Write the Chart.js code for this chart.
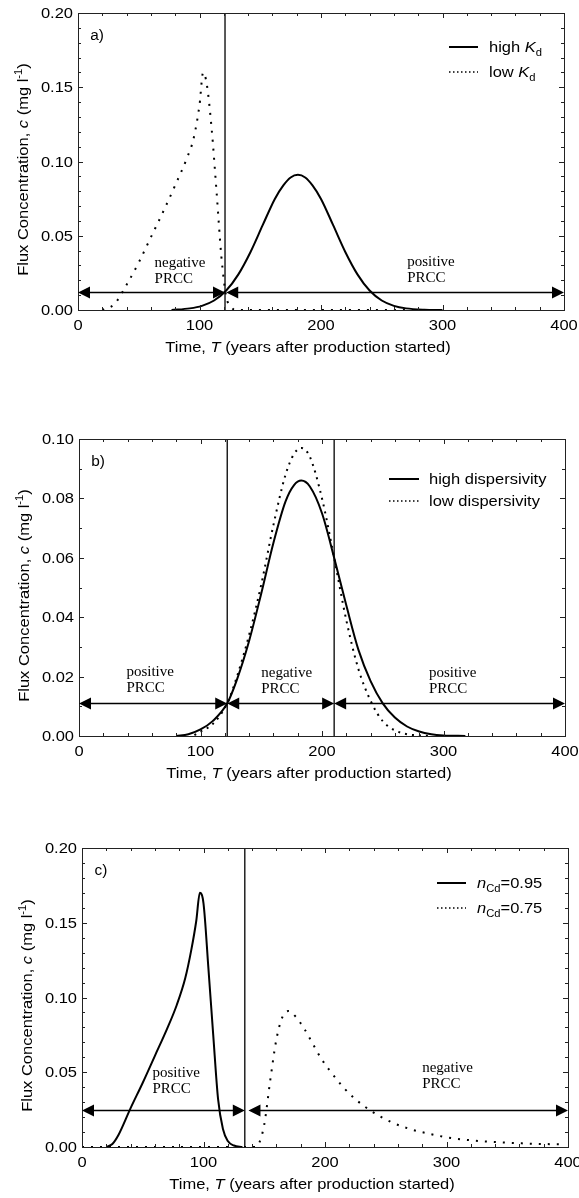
<!DOCTYPE html>
<html>
<head>
<meta charset="utf-8">
<script src="https://cdn.jsdelivr.net/npm/chart.js@4.4.1/dist/chart.umd.min.js"></script>
<style>
  html, body { margin: 0; padding: 0; background: #fff; }
  body { width: 579px; height: 1198px; position: relative; overflow: hidden; }
  canvas { position: absolute; left: 0; }
</style>
</head>
<body>
<canvas id="chartA" width="579" height="370" style="top:0px"></canvas>
<canvas id="chartB" width="579" height="400" style="top:400px"></canvas>
<canvas id="chartC" width="579" height="378" style="top:820px"></canvas>
<script>
// =================== DATA ===================
const xTickLabels = ["0", "100", "200", "300", "400"];
const yTickLabelsA = ["0.00", "0.05", "0.10", "0.15", "0.20"];
const yTickLabelsB = ["0.00", "0.02", "0.04", "0.06", "0.08", "0.10"];
const yTickLabelsC = ["0.00", "0.05", "0.10", "0.15", "0.20"];

// panel a) high / low Kd
const timeHighKd = [77, 92, 102, 112, 122, 132, 142, 152, 162, 169, 175, 181, 187, 193, 200, 210, 220, 230, 240, 250, 260, 270, 285, 300];
const concHighKd = [0, 0.0011, 0.0028, 0.0064, 0.0131, 0.024, 0.0391, 0.0571, 0.0748, 0.0839, 0.0892, 0.091, 0.0892, 0.0839, 0.0748, 0.0571, 0.0391, 0.024, 0.0131, 0.0064, 0.0028, 0.0011, 0.0002, 0];
const timeLowKd = [20, 30, 40, 50, 60, 70, 80, 90, 95, 100, 103, 106, 110, 114, 118, 122, 126, 130, 300];
const concLowKd = [0, 0.004, 0.017, 0.032, 0.049, 0.066, 0.084, 0.103, 0.115, 0.138, 0.160, 0.152, 0.122, 0.080, 0.036, 0.009, 0.002, 0, 0];
const dividersA = [121];
const arrowLevelA = 0.012;
const arrowSpansA = [[0, 121], [122, 400]];

// panel b) high / low dispersivity
const timeHighDisp = [80, 90, 100, 110, 122, 130, 140, 150, 160, 170, 177, 183, 190, 200, 210, 220, 230, 240, 250, 260, 270, 280, 290, 300, 318];
const concHighDisp = [0, 0.0006, 0.0022, 0.005, 0.011, 0.019, 0.032, 0.048, 0.065, 0.079, 0.0845, 0.086, 0.084, 0.075, 0.060, 0.044, 0.029, 0.0185, 0.011, 0.0062, 0.0032, 0.0015, 0.0006, 0.0002, 0];
const timeLowDisp = [95, 100, 110, 122, 130, 140, 150, 160, 170, 177, 183, 190, 200, 210, 220, 230, 241, 250, 260, 270, 280, 290];
const concLowDisp = [0.0003, 0.0015, 0.004, 0.011, 0.020, 0.034, 0.051, 0.071, 0.088, 0.095, 0.097, 0.094, 0.080, 0.060, 0.039, 0.0225, 0.011, 0.005, 0.0019, 0.0006, 0.0002, 0];
const dividersB = [122, 210];
const arrowLevelB = 0.011;
const arrowSpansB = [[0, 122], [122, 210], [210, 400]];

// panel c) nCd = 0.95 / 0.75
const timeN95 = [20, 25, 30, 40, 50, 60, 70, 78, 85, 90, 94, 97, 100, 104, 108, 112, 116, 120, 125, 132];
const concN95 = [0, 0.002, 0.008, 0.026, 0.043, 0.061, 0.079, 0.095, 0.113, 0.132, 0.151, 0.170, 0.163, 0.120, 0.075, 0.032, 0.012, 0.004, 0.001, 0];
const timeN75 = [0, 143, 146, 150, 155, 160, 165, 170, 176, 183, 190, 197, 205, 215, 225, 240, 255, 270, 285, 300, 320, 340, 360, 380, 395];
const concN75 = [0, 0, 0.003, 0.015, 0.045, 0.072, 0.087, 0.091, 0.087, 0.079, 0.069, 0.059, 0.050, 0.040, 0.032, 0.023, 0.0165, 0.012, 0.009, 0.0065, 0.0045, 0.0033, 0.0025, 0.002, 0.0018];
const dividersC = [134];
const arrowLevelC = 0.025;
const arrowSpansC = [[0, 134], [137, 400]];

// =================== TEXT HELPERS ===================
const SANS = '"Liberation Sans", Arial, sans-serif';
const SERIF = '"Liberation Serif", "Times New Roman", serif';
const SX = 1.1; // the sans text in the figure is a bit wide

function partFont(p, size) {
	const s = p.s === "sub" || p.s === "sup" ? size * 0.68 : size;
	return `${p.i ? "italic " : ""}${s}px ${SANS}`;
}

function drawRich(ctx, parts, x, y, size, align, rotate) {
	ctx.save();
	ctx.translate(x, y);
	if (rotate) ctx.rotate(-Math.PI / 2);
	ctx.scale(SX, 1);
	let w = 0;
	parts.forEach((p) => {
		ctx.font = partFont(p, size);
		w += ctx.measureText(p.t).width;
	});
	let cx = align === "center" ? -w / 2 : align === "right" ? -w : 0;
	ctx.textAlign = "left";
	ctx.textBaseline = "alphabetic";
	ctx.fillStyle = "#000";
	parts.forEach((p) => {
		ctx.font = partFont(p, size);
		const dy = p.s === "sub" ? size * 0.28 : p.s === "sup" ? -size * 0.42 : 0;
		ctx.fillText(p.t, cx, dy);
		cx += ctx.measureText(p.t).width;
	});
	ctx.restore();
}

const yTitle = [{ t: "Flux Concentration, " }, { t: "c", i: 1 }, { t: " (mg l" }, { t: "-1", s: "sup" }, { t: ")" }];
const xTitle = [{ t: "Time, " }, { t: "T", i: 1 }, { t: " (years after production started)" }];

// =================== DECOR PLUGIN ===================
const decor = {
	id: "decor",
	afterDraw(chart, args, o) {
		const { ctx, chartArea: a } = chart;
		const x = chart.scales.x;
		const y = chart.scales.y;
		const L = Math.round(a.left), R = Math.round(a.right), T = Math.round(a.top), B = Math.round(a.bottom);
		ctx.save();

		// frame
		ctx.strokeStyle = "#222";
		ctx.lineWidth = 1;
		ctx.strokeRect(L + 0.5, T + 0.5, R - L, B - T);

		// inward ticks, all four sides
		const xMaj = o.xLabels.map(Number);
		const yMaj = o.yLabels.map(Number);
		ctx.beginPath();
		const nx = Math.round(400 / o.xMinor);
		for (let i = 0; i <= nx; i++) {
			const v = i * o.xMinor;
			const len = xMaj.some((t) => Math.abs(t - v) < 1e-6) ? 5 : 3;
			const px = Math.round(x.getPixelForValue(v)) + 0.5;
			ctx.moveTo(px, B); ctx.lineTo(px, B - len);
			ctx.moveTo(px, T); ctx.lineTo(px, T + len);
		}
		const ny = Math.round(o.yMax / o.yMinor);
		for (let i = 0; i <= ny; i++) {
			const v = i * o.yMinor;
			const len = yMaj.some((t) => Math.abs(t - v) < 1e-6) ? 5 : 3;
			const py = Math.round(y.getPixelForValue(v)) + 0.5;
			ctx.moveTo(L, py); ctx.lineTo(L + len, py);
			ctx.moveTo(R, py); ctx.lineTo(R - len, py);
		}
		ctx.stroke();

		// tick labels
		o.xLabels.forEach((lab) => {
			drawRich(ctx, [{ t: lab }], x.getPixelForValue(Number(lab)), B + 20, 15, "center");
		});
		o.yLabels.forEach((lab) => {
			drawRich(ctx, [{ t: lab }], L - 5, y.getPixelForValue(Number(lab)) + 5, 15, "right");
		});

		// axis titles
		drawRich(ctx, xTitle, (L + R) / 2 - 13, B + 42, 15, "center");
		drawRich(ctx, yTitle, L - 50, (T + B) / 2 + 8, 15, "center", true);

		// panel letter
		drawRich(ctx, [{ t: o.letter }], L + 19, T + 27, 14, "center");

		// legend
		o.legend.forEach((row, k) => {
			const ry = T + o.legendTop + k * o.legendGap;
			ctx.save();
			ctx.strokeStyle = "#000";
			if (row.dotted) {
				ctx.lineWidth = 1.4;
				ctx.setLineDash([1.5, 2.5]);
			} else {
				ctx.lineWidth = 2;
			}
			ctx.beginPath();
			ctx.moveTo(R - o.legendLine[0], ry);
			ctx.lineTo(R - o.legendLine[1], ry);
			ctx.stroke();
			ctx.restore();
			drawRich(ctx, row.parts, R - o.legendText, ry + 5, 15, "left");
		});

		// double arrows
		const ay = Math.round(y.getPixelForValue(o.arrowLevel)) + 0.5;
		ctx.strokeStyle = "#000";
		ctx.fillStyle = "#000";
		ctx.lineWidth = 1.4;
		const hl = 12, hw = 6;
		o.arrows.forEach(([s, e]) => {
			const x1 = x.getPixelForValue(s), x2 = x.getPixelForValue(e);
			ctx.beginPath();
			ctx.moveTo(x1 + hl - 1, ay); ctx.lineTo(x2 - hl + 1, ay);
			ctx.stroke();
			ctx.beginPath();
			ctx.moveTo(x1, ay); ctx.lineTo(x1 + hl, ay - hw); ctx.lineTo(x1 + hl, ay + hw); ctx.closePath();
			ctx.moveTo(x2, ay); ctx.lineTo(x2 - hl, ay - hw); ctx.lineTo(x2 - hl, ay + hw); ctx.closePath();
			ctx.fill();
		});

		// PRCC notes
		ctx.font = `15px ${SERIF}`;
		ctx.textAlign = "left";
		ctx.textBaseline = "middle";
		o.notes.forEach((n) => {
			const px = x.getPixelForValue(n.x), py = y.getPixelForValue(n.y);
			ctx.fillText(n.lines[0], px, py);
			ctx.fillText(n.lines[1], px, py + 16);
		});
		ctx.restore();
	},
};

// =================== CHART BUILDER ===================
function pts(xs, ys) {
	return xs.map((v, i) => ({ x: v, y: ys[i] }));
}

function solid(xs, ys) {
	return {
		data: pts(xs, ys), borderColor: "#000", borderWidth: 2, pointRadius: 0,
		cubicInterpolationMode: "monotone", fill: false, clip: 4,
	};
}

function dotted(xs, ys, dash) {
	return {
		data: pts(xs, ys), borderColor: "#000", borderWidth: 2, borderDash: dash, pointRadius: 0,
		cubicInterpolationMode: "monotone", fill: false, clip: 4,
	};
}

function divider(v, yMax) {
	return {
		data: [{ x: v, y: 0 }, { x: v, y: yMax }], borderColor: "#000", borderWidth: 1.3,
		pointRadius: 0, fill: false,
	};
}

function renderPanel(p) {
	const ctx = document.getElementById(p.id).getContext("2d");
	const datasets = [
		solid(p.solid[0], p.solid[1]),
		dotted(p.dotted[0], p.dotted[1], p.dash),
		...p.dividers.map((v) => divider(v, p.yMax)),
	];
	return new Chart(ctx, {
		type: "line",
		data: { datasets },
		plugins: [decor],
		options: {
			responsive: false,
			animation: false,
			devicePixelRatio: 1,
			layout: { padding: { top: p.padTop, right: p.padRight, left: 0, bottom: 0 } },
			plugins: { legend: { display: false }, tooltip: { enabled: false }, decor: p.decor },
			scales: {
				x: {
					type: "linear", min: 0, max: 400,
					grid: { display: false }, border: { display: false }, ticks: { display: false },
					afterFit(s) { s.height = p.xHeight; },
				},
				y: {
					type: "linear", min: 0, max: p.yMax,
					grid: { display: false }, border: { display: false }, ticks: { display: false },
					afterFit(s) { s.width = p.yWidth; },
				},
			},
		},
	});
}

renderPanel({
	id: "chartA", yMax: 0.2, padTop: 13, padRight: 15, xHeight: 60, yWidth: 78, dash: [2, 7],
	solid: [timeHighKd, concHighKd], dotted: [timeLowKd, concLowKd], dividers: dividersA,
	decor: {
		xLabels: xTickLabels, yLabels: yTickLabelsA, xMinor: 20, yMinor: 0.01, yMax: 0.2,
		letter: "a)",
		legend: [
			{ parts: [{ t: "high " }, { t: "K", i: 1 }, { t: "d", s: "sub" }] },
			{ parts: [{ t: "low " }, { t: "K", i: 1 }, { t: "d", s: "sub" }], dotted: true },
		],
		legendTop: 34, legendGap: 25, legendLine: [115, 86], legendText: 75,
		arrowLevel: arrowLevelA, arrows: arrowSpansA,
		notes: [
			{ x: 63, y: 0.0314, lines: ["negative", "PRCC"] },
			{ x: 271, y: 0.0325, lines: ["positive", "PRCC"] },
		],
	},
});

renderPanel({
	id: "chartB", yMax: 0.1, padTop: 39, padRight: 14, xHeight: 64, yWidth: 79, dash: [2, 5],
	solid: [timeHighDisp, concHighDisp], dotted: [timeLowDisp, concLowDisp], dividers: dividersB,
	decor: {
		xLabels: xTickLabels, yLabels: yTickLabelsB, xMinor: 20, yMinor: 0.01, yMax: 0.1,
		letter: "b)",
		legend: [
			{ parts: [{ t: "high dispersivity" }] },
			{ parts: [{ t: "low dispersivity" }], dotted: true },
		],
		legendTop: 40, legendGap: 22, legendLine: [176, 146], legendText: 136,
		arrowLevel: arrowLevelB, arrows: arrowSpansB,
		notes: [
			{ x: 39, y: 0.0214, lines: ["positive", "PRCC"] },
			{ x: 150, y: 0.0211, lines: ["negative", "PRCC"] },
			{ x: 288, y: 0.0211, lines: ["positive", "PRCC"] },
		],
	},
});

renderPanel({
	id: "chartC", yMax: 0.2, padTop: 28, padRight: 11, xHeight: 51, yWidth: 82, dash: [2, 7],
	solid: [timeN95, concN95], dotted: [timeN75, concN75], dividers: dividersC,
	decor: {
		xLabels: xTickLabels, yLabels: yTickLabelsC, xMinor: 20, yMinor: 0.01, yMax: 0.2,
		letter: "c)",
		legend: [
			{ parts: [{ t: "n", i: 1 }, { t: "Cd", s: "sub" }, { t: "=0.95" }] },
			{ parts: [{ t: "n", i: 1 }, { t: "Cd", s: "sub" }, { t: "=0.75" }], dotted: true },
		],
		legendTop: 35, legendGap: 25, legendLine: [131, 102], legendText: 91,
		arrowLevel: arrowLevelC, arrows: arrowSpansC,
		notes: [
			{ x: 58, y: 0.0493, lines: ["positive", "PRCC"] },
			{ x: 280, y: 0.0526, lines: ["negative", "PRCC"] },
		],
	},
});
</script>
</body>
</html>
